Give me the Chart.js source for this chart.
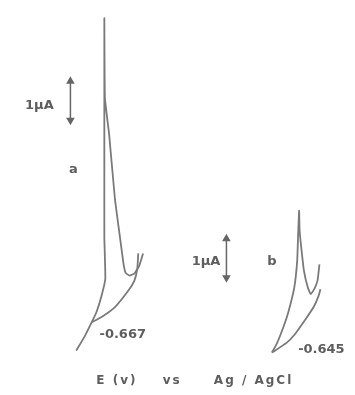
<!DOCTYPE html>
<html>
<head>
<meta charset="utf-8">
<script src="https://cdn.jsdelivr.net/npm/chart.js@4.4.0/dist/chart.umd.min.js"></script>
<style>
  body { margin: 0; background: #fff; }
  #wrap { width: 355px; height: 395px; }
</style>
</head>
<body>
<div id="wrap"><canvas id="cv"></canvas></div>
<script>
// curva a: barrido principal (rama izquierda, pico y rama derecha)
const aMainX = [73, 82, 89, 94, 99, 103, 102, 102, 102, 102, 102.6, 107, 113, 119, 122, 124, 128, 133, 138, 142];
const aMainY = [1.0, 1.38, 1.73, 2.0, 2.4, 2.85, 3.9, 5.9, 7.45, 9.55, 7.5, 6.55, 4.88, 3.75, 3.2, 3.0, 2.93, 2.98, 3.18, 3.5];
// curva a: rama inferior
const aLowX = [89, 100, 113, 127, 133, 136, 137];
const aLowY = [1.73, 1.88, 2.12, 2.55, 2.8, 3.1, 3.5];

// curva b
const bMainX = [275, 280, 287, 292, 298, 301, 302, 303, 303.5, 305, 308, 312, 315, 319, 322, 323, 324];
const bMainY = [0.95, 1.18, 1.62, 2.0, 2.62, 3.3, 4.0, 4.6, 4.1, 3.7, 3.05, 2.62, 2.45, 2.6, 2.8, 3.0, 3.22];
const bLowX = [275, 290, 298, 310, 318, 323, 325];
const bLowY = [0.95, 1.2, 1.4, 1.82, 2.12, 2.4, 2.58];

// barras de escala de 1 uA
const barAX = [67, 67];
const barAY = [7.925, 6.925];
const barBX = [228, 228];
const barBY = [3.875, 2.875];

// etiquetas
const labelText = ['1\u03BCA', 'a', '1\u03BCA', 'b', '-0.667', '-0.645', 'E (v)', 'vs', 'Ag / AgCl'];
const labelX = [35, 70, 207, 275, 121, 326, 115, 172, 256];
const labelY = [7.3, 5.65, 3.3, 3.3, 1.4, 1.03, 0.225, 0.225, 0.225];

function pts(xs, ys) {
    return xs.map((x, i) => ({ x: x, y: ys[i] }));
}

const gris = '#7a7a7a';

function curva(xs, ys) {
    return {
        data: pts(xs, ys),
        showLine: true,
        borderColor: gris,
        borderWidth: 1.8,
        pointRadius: 0,
        tension: 0.12,
        fill: false
    };
}

function barra(xs, ys) {
    return {
        data: pts(xs, ys),
        showLine: true,
        borderColor: '#666',
        borderWidth: 1.5,
        pointStyle: 'triangle',
        pointRadius: 3.5,
        pointRotation: [0, 180],
        pointBackgroundColor: '#666',
        pointBorderColor: '#666',
        tension: 0
    };
}

// dibuja las etiquetas en coordenadas de datos
const etiquetas = {
    id: 'etiquetas',
    afterDatasetsDraw(chart) {
        const ctx = chart.ctx;
        const sx = chart.scales.x;
        const sy = chart.scales.y;
        ctx.save();
        ctx.fillStyle = '#5e5e5e';
        ctx.textAlign = 'center';
        ctx.textBaseline = 'middle';
        labelText.forEach((t, i) => {
            if (i >= 6) {
                ctx.font = 'bold 12px "DejaVu Sans"';
                ctx.letterSpacing = '2px';
            } else {
                ctx.font = 'bold 13px "DejaVu Sans"';
                ctx.letterSpacing = '0px';
            }
            ctx.fillText(t, sx.getPixelForValue(labelX[i]), sy.getPixelForValue(labelY[i]));
        });
        ctx.restore();
    }
};

new Chart(document.getElementById('cv'), {
    type: 'scatter',
    data: {
        datasets: [
            curva(aMainX, aMainY),
            curva(aLowX, aLowY),
            curva(bMainX, bMainY),
            curva(bLowX, bLowY),
            barra(barAX, barAY),
            barra(barBX, barBY)
        ]
    },
    options: {
        responsive: true,
        maintainAspectRatio: false,
        animation: false,
        layout: { padding: 0 },
        plugins: {
            legend: { display: false },
            tooltip: { enabled: false }
        },
        scales: {
            x: { type: 'linear', min: 0, max: 355, display: false },
            y: { type: 'linear', min: 0, max: 9.875, display: false }
        }
    },
    plugins: [etiquetas]
});
</script>
</body>
</html>
